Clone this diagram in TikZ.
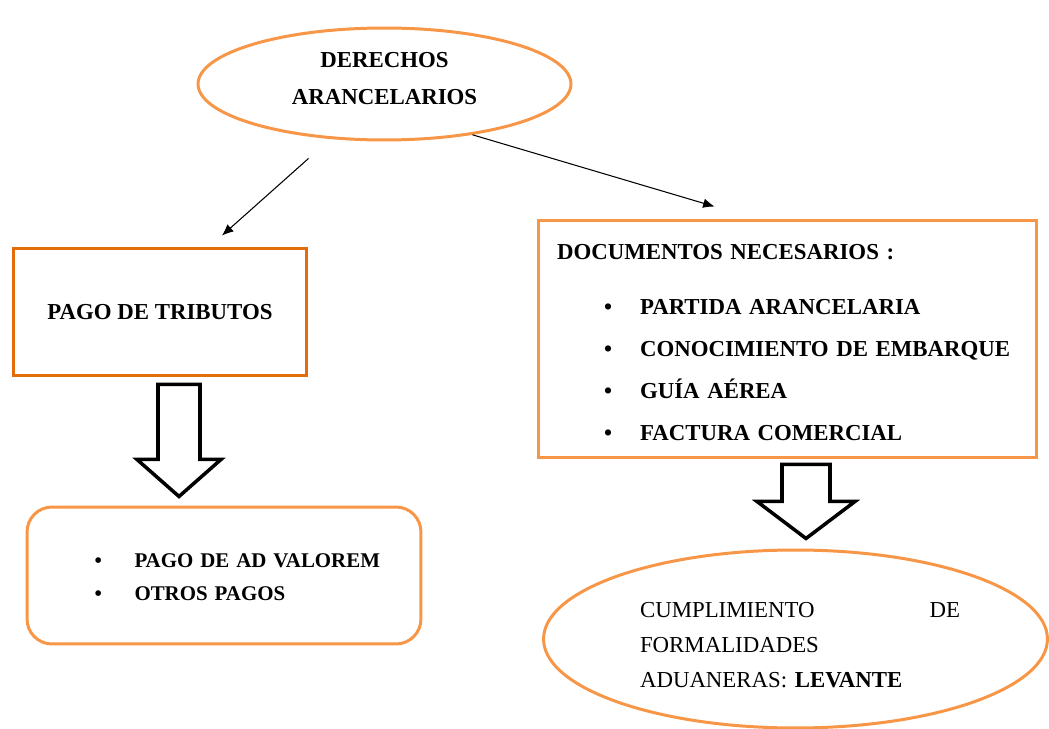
\documentclass[tikz,border=0pt]{standalone}
\usepackage{fontspec}
\setmainfont{Liberation Serif}
\usetikzlibrary{shapes.geometric,calc,arrows.meta}
\definecolor{naranja}{HTML}{F79646}
\definecolor{naranjaosc}{HTML}{E46C0A}

\begin{document}
\begin{tikzpicture}[x=0.02cm, y=-0.02cm, thick]

    \tikzset{oval/.style={%
      draw=naranja,%
      line width=1.7pt,%
      ellipse,%
      inner sep=0pt,%
      align=center,%
      font=\bfseries\fontsize{13}{21}\selectfont}%
    };

    \tikzset{block/.style={%
      draw=naranja,%
      line width=1.7pt,%
      rectangle,%
      inner sep=0pt,%
      align=left,%
      font=\bfseries\fontsize{13}{23.8}\selectfont}%
    };

    \tikzset{flecha/.style={-{Latex[length=6.5pt, width=5.5pt]}, line width=0.6pt}};

    \tikzset{hueca/.style={draw=black, line width=2pt, fill=white, line join=miter}};

    \useasboundingbox (0, 0) rectangle (1049, 729);

    %%%%%%%%%%%%%
    % conceptos %
    %%%%%%%%%%%%%
    \path (384.5, 84) node [oval, text width=4cm, text height=0pt, text depth=18.6pt,
      minimum width=7.46cm, minimum height=2.24cm] (derechos) {DERECHOS\\ARANCELARIOS};

    \path (160, 312) node [block, draw=naranjaosc, align=center, minimum width=5.88cm,
      minimum height=2.56cm] (tributos) {PAGO DE TRIBUTOS};

    \path (787.5, 339) node [block, text width=9.98cm, text height=0pt, text depth=90pt,
      minimum height=4.76cm] (documentos)
      {\hspace*{0.38cm}DOCUMENTOS NECESARIOS :\\[7.4pt]
       \hspace*{1.32cm}\makebox[0.72cm][l]{•}PARTIDA ARANCELARIA\\
       \hspace*{1.32cm}\makebox[0.72cm][l]{•}CONOCIMIENTO DE EMBARQUE\\
       \hspace*{1.32cm}\makebox[0.72cm][l]{•}GUÍA AÉREA\\
       \hspace*{1.32cm}\makebox[0.72cm][l]{•}FACTURA COMERCIAL};

    \path (224, 575.5) node [block, rounded corners=0.5cm, text width=7.88cm,
      text height=0pt, text depth=9.6pt, minimum height=2.74cm,
      font=\bfseries\fontsize{11.9}{19.3}\selectfont] (pagos)
      {\hspace*{1.35cm}\makebox[0.8cm][l]{•}PAGO DE AD VALOREM\\
       \hspace*{1.35cm}\makebox[0.8cm][l]{•}OTROS PAGOS};

    \path (795.5, 639) node [oval, align=left, text width=6.58cm, text height=0pt,
      text depth=24.3pt, minimum width=10.08cm, minimum height=3.56cm,
      font=\fontsize{13}{20}\selectfont] (levante)
      {\hspace*{0.18cm}CUMPLIMIENTO\hfill DE\\
       \hspace*{0.18cm}FORMALIDADES\\
       \hspace*{0.18cm}ADUANERAS: \textbf{LEVANTE}};

    %%%%%%%%%%%
    % flechas %
    %%%%%%%%%%%
    \draw [flecha] ($(derechos.south)+(-76, 17)$) -- ($(tributos.north)+(62, -11)$);
    \draw [flecha] (derechos.-30) -- ($(documentos.north west)+(178, -12)$);

    \draw [hueca] ($(tributos.south)+(-2, 7)$) -- ++(42, 0) -- ++(0, 75) -- ++(21, 0)
      -- ++(-42, 37) -- ++(-42, -37) -- ++(21, 0) -- cycle;

    \draw [hueca] ($(documentos.south)+(-5.5, 5)$) -- ++(48, 0) -- ++(0, 37) -- ++(25, 0)
      -- ++(-49, 37) -- ++(-49, -37) -- ++(25, 0) -- cycle;

  \end{tikzpicture}
\end{document}
